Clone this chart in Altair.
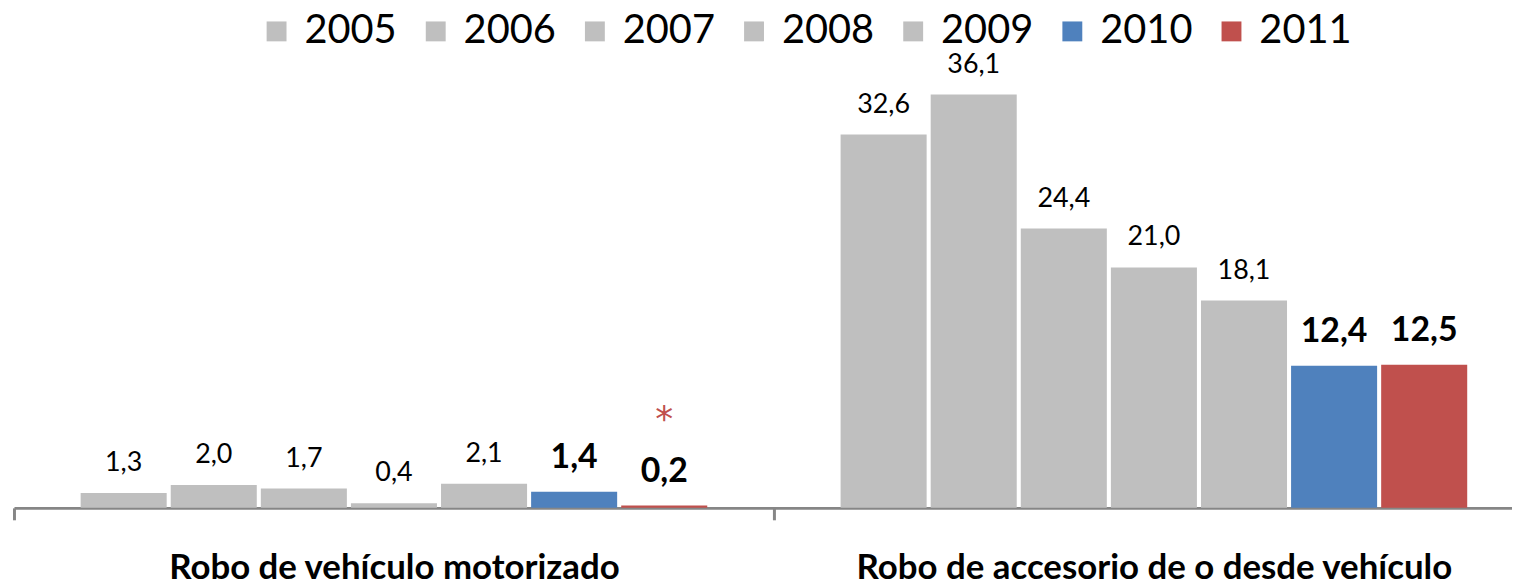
import altair as alt
import pandas as pd

categories = ["Robo de vehículo motorizado", "Robo de accesorio de o desde vehículo"]
years = ["2005", "2006", "2007", "2008", "2009", "2010", "2011"]
motorizado = [1.3, 2.0, 1.7, 0.4, 2.1, 1.4, 0.2]
accesorio = [32.6, 36.1, 24.4, 21.0, 18.1, 12.4, 12.5]
colors = ["#BFBFBF", "#BFBFBF", "#BFBFBF", "#BFBFBF", "#BFBFBF", "#4F81BD", "#C0504D"]
bold_years = ["2010", "2011"]

rows = []
for cat, vals in zip(categories, [motorizado, accesorio]):
    for y, v in zip(years, vals):
        rows.append({"cat": cat, "year": y, "value": v,
                     "label": f"{v:.1f}".replace(".", ","),
                     "bold": y in bold_years})
df = pd.DataFrame(rows)

FONT = "Lato"

x = alt.X("cat:N", sort=categories,
          scale=alt.Scale(paddingInner=0, paddingOuter=0, range=[0, 1528]),
          axis=alt.Axis(title=None, labelAngle=0, labelFontSize=35, labelFontWeight="bold",
                        labelFont=FONT, labelColor="#000000", labelPadding=31, labelLimit=800,
                        domainColor="#868686", domainWidth=3, tickColor="#868686",
                        tickWidth=3, tickSize=12, tickBand="extent"))
xo = alt.XOffset("year:N", sort=years, scale=alt.Scale(paddingInner=0.045, paddingOuter=0.74))
y = alt.Y("value:Q", scale=alt.Scale(domain=[0, 39], nice=False), axis=None)

base = alt.Chart(df)

bars = base.mark_bar().encode(
    x=x, xOffset=xo, y=y,
    color=alt.Color("year:N", sort=years,
                    scale=alt.Scale(domain=years, range=colors),
                    legend=alt.Legend(title=None, orient="none", direction="horizontal",
                                      legendX=244, legendY=-50, symbolType="square",
                                      symbolSize=400, symbolStrokeWidth=0, labelFontSize=40,
                                      labelFont=FONT, labelColor="#000000", labelOffset=8,
                                      columnPadding=19, symbolOpacity=1)),
)

labels_norm = base.transform_filter("!datum.bold").mark_text(
    fontSize=27, font=FONT, dy=-22, baseline="alphabetic", color="#000000").encode(
    x=x, xOffset=xo, y=y, text="label:N")

labels_bold = base.transform_filter("datum.bold").mark_text(
    fontSize=34, font=FONT, fontWeight="bold", dy=-24, baseline="alphabetic", color="#000000").encode(
    x=x, xOffset=xo, y=y, text="label:N")

star = base.transform_filter(
    f"datum.year == '2011' && datum.cat == '{categories[0]}'").mark_text(
    fontSize=36, font="DejaVu Sans", dy=-75, baseline="alphabetic", color="#C0504D").encode(
    x=x, xOffset=xo, y=y, text=alt.value("*"))

chart = alt.layer(bars, labels_norm, labels_bold, star).properties(
    width=1498, height=449,
    autosize=alt.AutoSizeParams(type="none"),
    padding={"left": 6, "top": 52, "right": 8, "bottom": 74},
).configure_view(stroke=None)

chart.save("out.html", embed_options={"renderer": "svg", "actions": False})
